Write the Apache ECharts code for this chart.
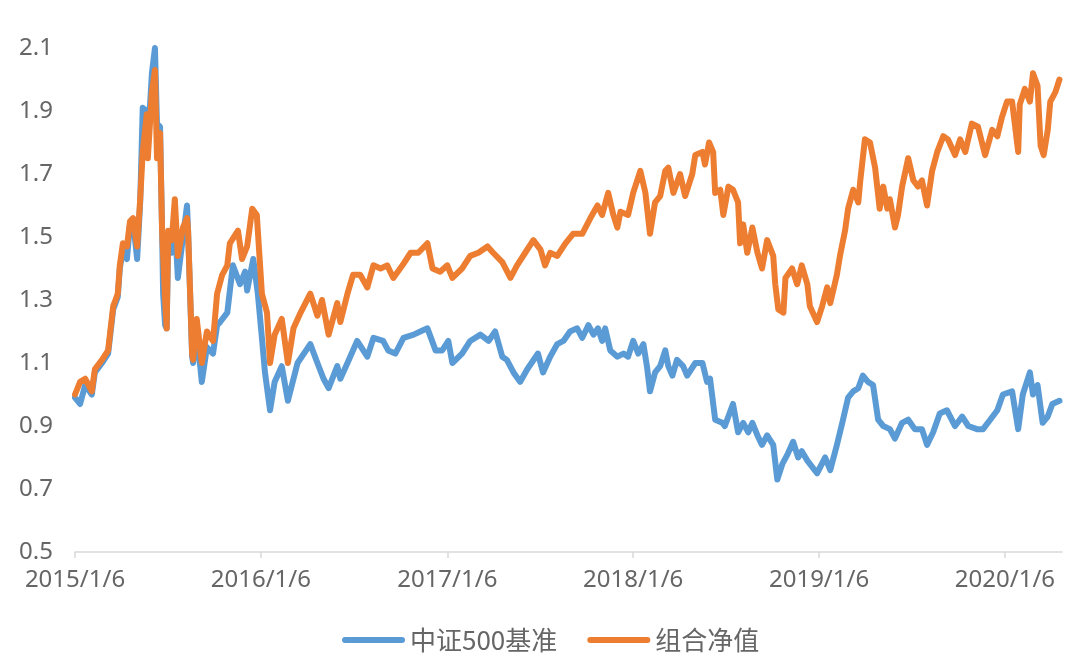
<!DOCTYPE html>
<html>
<head>
<meta charset="utf-8">
<script src="https://cdn.jsdelivr.net/npm/echarts@6/dist/echarts.min.js"></script>
<style>
html,body{margin:0;padding:0;background:#fff;}
#chart{width:1077px;height:660px;}
</style>
</head>
<body>
<div id="chart"></div>
<script>
const seriesNames = ['中证500基准', '组合净值'];
const tickLabels = ['2015/1/6', '2016/1/6', '2017/1/6', '2018/1/6', '2019/1/6', '2020/1/6'];
const axisStart = '2015-01-06';
const axisEnd = '2020-04-27';

const blueDates = [
'2015-01-06','2015-01-16','2015-01-26','2015-02-08','2015-02-14','2015-02-28','2015-03-12','2015-03-22','2015-03-31','2015-04-04',
'2015-04-10','2015-04-18','2015-04-24','2015-04-30','2015-05-08','2015-05-14','2015-05-19','2015-05-27','2015-05-29','2015-06-06',
'2015-06-12','2015-06-16','2015-06-22','2015-06-26','2015-06-28','2015-07-02','2015-07-05','2015-07-08','2015-07-15','2015-07-21',
'2015-07-27','2015-08-06','2015-08-14','2015-08-16','2015-08-24','2015-08-26','2015-09-02','2015-09-12','2015-09-22','2015-10-04',
'2015-10-12','2015-10-18','2015-11-01','2015-11-12','2015-11-26','2015-12-06','2015-12-10','2015-12-22','2015-12-31',
'2016-01-08','2016-01-14','2016-01-24','2016-02-02','2016-02-16','2016-02-28','2016-03-18','2016-04-12','2016-04-26','2016-05-08',
'2016-05-18','2016-06-04','2016-06-10','2016-06-24','2016-07-13','2016-08-02','2016-08-14','2016-09-02','2016-09-12','2016-09-26',
'2016-10-12','2016-11-01','2016-11-14','2016-11-28','2016-12-14','2016-12-27',
'2017-01-08','2017-01-16','2017-02-04','2017-02-20','2017-03-12','2017-03-28','2017-04-10','2017-04-24','2017-05-03','2017-05-16',
'2017-05-29','2017-06-12','2017-07-03','2017-07-13','2017-07-27','2017-08-10','2017-08-22','2017-09-04','2017-09-18','2017-09-28',
'2017-10-10','2017-10-20','2017-10-29','2017-11-06','2017-11-12','2017-11-22','2017-12-06','2017-12-18','2017-12-27',
'2018-01-06','2018-01-16','2018-01-26','2018-02-02','2018-02-08','2018-02-18','2018-02-28','2018-03-10','2018-03-16','2018-03-24',
'2018-04-02','2018-04-14','2018-04-22','2018-05-08','2018-05-22','2018-05-31','2018-06-06','2018-06-16','2018-06-30','2018-07-05',
'2018-07-21','2018-07-31','2018-08-10','2018-08-20','2018-08-28','2018-09-07','2018-09-16','2018-09-26','2018-10-08','2018-10-16',
'2018-10-26','2018-11-05','2018-11-16','2018-11-26','2018-12-03','2018-12-14','2019-01-02',
'2019-01-18','2019-01-28','2019-02-10','2019-02-22','2019-03-04','2019-03-14','2019-03-24','2019-04-02','2019-04-12','2019-04-22',
'2019-05-02','2019-05-12','2019-05-25','2019-06-04','2019-06-18','2019-06-30','2019-07-13','2019-07-27','2019-08-06','2019-08-18',
'2019-08-31','2019-09-14','2019-09-30','2019-10-14','2019-10-26','2019-11-12','2019-11-24','2019-12-08','2019-12-22',
'2020-01-02','2020-01-20','2020-02-01','2020-02-10','2020-02-24','2020-03-01','2020-03-10','2020-03-20','2020-03-30','2020-04-08',
'2020-04-22'
];
const blueValues = [
0.99,0.97,1.03,1.00,1.07,1.10,1.13,1.27,1.31,1.40,
1.46,1.43,1.54,1.55,1.43,1.61,1.91,1.90,1.80,2.02,
2.10,1.86,1.85,1.52,1.32,1.22,1.21,1.50,1.45,1.55,
1.37,1.50,1.60,1.52,1.12,1.10,1.20,1.04,1.15,1.13,
1.22,1.23,1.26,1.41,1.35,1.39,1.33,1.43,1.32,
1.18,1.07,0.95,1.04,1.09,0.98,1.10,1.16,1.10,1.05,
1.02,1.09,1.05,1.10,1.17,1.12,1.18,1.17,1.14,1.13,
1.18,1.19,1.20,1.21,1.14,1.14,
1.17,1.10,1.13,1.17,1.19,1.17,1.20,1.12,1.11,1.07,
1.04,1.08,1.13,1.07,1.12,1.16,1.17,1.20,1.21,1.18,
1.22,1.19,1.21,1.17,1.21,1.14,1.12,1.13,1.12,
1.17,1.13,1.16,1.09,1.01,1.07,1.09,1.14,1.09,1.06,
1.11,1.09,1.06,1.10,1.10,1.04,1.05,0.92,0.91,0.90,
0.97,0.88,0.91,0.88,0.91,0.87,0.84,0.87,0.84,0.73,
0.78,0.81,0.85,0.80,0.82,0.79,0.75,
0.80,0.76,0.84,0.92,0.99,1.01,1.02,1.06,1.04,1.03,
0.92,0.90,0.89,0.86,0.91,0.92,0.89,0.89,0.84,0.88,
0.94,0.95,0.90,0.93,0.90,0.89,0.89,0.92,0.95,
1.00,1.01,0.89,1.00,1.07,1.00,1.03,0.91,0.93,0.97,
0.98
];

const orangeDates = [
'2015-01-06','2015-01-16','2015-01-26','2015-02-08','2015-02-14','2015-02-28','2015-03-12','2015-03-22','2015-03-31','2015-04-04',
'2015-04-10','2015-04-18','2015-04-24','2015-04-30','2015-05-08','2015-05-14','2015-05-19','2015-05-27','2015-05-29','2015-06-06',
'2015-06-12','2015-06-16','2015-06-22','2015-06-26','2015-07-02','2015-07-05','2015-07-08','2015-07-15','2015-07-21','2015-07-27',
'2015-08-06','2015-08-14','2015-08-16','2015-08-24','2015-08-26','2015-09-02','2015-09-12','2015-09-22','2015-10-04','2015-10-12',
'2015-10-22','2015-11-01','2015-11-06','2015-11-22','2015-11-30','2015-12-10','2015-12-20','2015-12-29',
'2016-01-08','2016-01-18','2016-01-24','2016-02-02','2016-02-16','2016-02-28','2016-03-10','2016-03-24','2016-04-12','2016-04-26',
'2016-05-05','2016-05-18','2016-06-04','2016-06-10','2016-06-24','2016-07-05','2016-07-19','2016-08-02','2016-08-14','2016-08-28',
'2016-09-10','2016-09-22','2016-10-10','2016-10-26','2016-11-10','2016-11-28','2016-12-08','2016-12-23',
'2017-01-06','2017-01-16','2017-02-04','2017-02-20','2017-03-08','2017-03-26','2017-04-06','2017-04-24','2017-05-10','2017-05-23',
'2017-06-08','2017-06-24','2017-07-08','2017-07-17','2017-07-27','2017-08-10','2017-08-26','2017-09-10','2017-09-28','2017-10-14',
'2017-10-28','2017-11-06','2017-11-18','2017-11-28','2017-12-06','2017-12-12','2017-12-27',
'2018-01-06','2018-01-20','2018-01-30','2018-02-08','2018-02-18','2018-02-28','2018-03-10','2018-03-16','2018-03-26','2018-04-08',
'2018-04-18','2018-05-02','2018-05-08','2018-05-22','2018-05-27','2018-06-04','2018-06-12','2018-06-16','2018-06-26','2018-07-02',
'2018-07-12','2018-07-21','2018-07-31','2018-08-04','2018-08-10','2018-08-18','2018-08-28','2018-09-07','2018-09-16','2018-09-26',
'2018-10-08','2018-10-12','2018-10-18','2018-10-28','2018-11-01','2018-11-14','2018-11-24','2018-12-03','2018-12-14','2018-12-19',
'2019-01-02','2019-01-12','2019-01-22','2019-01-28','2019-02-10','2019-02-16','2019-02-26','2019-03-04','2019-03-14','2019-03-24',
'2019-03-28','2019-04-06','2019-04-16','2019-04-26','2019-05-05','2019-05-12','2019-05-20','2019-05-25','2019-06-04','2019-06-10',
'2019-06-18','2019-06-30','2019-07-10','2019-07-19','2019-07-27','2019-08-06','2019-08-16','2019-08-26','2019-09-07','2019-09-16',
'2019-09-30','2019-10-10','2019-10-20','2019-11-02','2019-11-14','2019-11-28','2019-12-12','2019-12-22','2019-12-31',
'2020-01-10','2020-01-20','2020-02-01','2020-02-04','2020-02-14','2020-02-24','2020-03-01','2020-03-10','2020-03-16','2020-03-22',
'2020-03-30','2020-04-04','2020-04-14','2020-04-22'
];
const orangeValues = [
1.00,1.04,1.05,1.01,1.08,1.11,1.14,1.28,1.32,1.41,
1.48,1.47,1.55,1.56,1.47,1.62,1.77,1.89,1.75,1.96,
2.03,1.75,1.83,1.52,1.30,1.21,1.52,1.49,1.62,1.44,
1.53,1.56,1.52,1.13,1.11,1.24,1.10,1.20,1.17,1.32,
1.38,1.41,1.48,1.52,1.43,1.47,1.59,1.57,
1.32,1.26,1.10,1.19,1.24,1.10,1.21,1.26,1.32,1.25,
1.30,1.19,1.29,1.23,1.32,1.38,1.38,1.34,1.41,1.40,
1.41,1.37,1.41,1.45,1.45,1.48,1.40,1.39,
1.41,1.37,1.40,1.44,1.45,1.47,1.45,1.42,1.37,1.41,
1.45,1.49,1.46,1.41,1.45,1.44,1.48,1.51,1.51,1.56,
1.60,1.57,1.64,1.57,1.53,1.58,1.57,
1.64,1.71,1.64,1.51,1.61,1.63,1.71,1.72,1.64,1.70,
1.63,1.70,1.76,1.77,1.73,1.80,1.77,1.64,1.65,1.57,
1.66,1.65,1.61,1.48,1.54,1.45,1.53,1.45,1.40,1.49,
1.44,1.35,1.27,1.26,1.37,1.40,1.35,1.41,1.35,1.28,
1.23,1.28,1.34,1.29,1.38,1.44,1.52,1.59,1.65,1.61,
1.68,1.81,1.80,1.72,1.59,1.66,1.59,1.62,1.53,1.57,
1.66,1.75,1.68,1.66,1.68,1.60,1.71,1.77,1.82,1.81,
1.76,1.81,1.77,1.86,1.85,1.76,1.84,1.82,1.88,
1.93,1.93,1.77,1.92,1.97,1.93,2.02,1.98,1.79,1.76,
1.84,1.93,1.96,2.00
];

function toTs(s) {
  const p = s.replace(/\//g, '-').split('-').map(Number);
  return Date.UTC(p[0], p[1] - 1, p[2]);
}
function pairs(dates, values) {
  return dates.map((d, i) => [toTs(d), values[i]]);
}
const tickValues = tickLabels.map(toTs);

const chart = echarts.init(document.getElementById('chart'), null, {renderer: 'canvas'});
const fontFamily = '"Noto Sans", "Noto Sans CJK SC", sans-serif';
const capsule = 'path://M3,0 L60,0 A3,3 0 0 1 60,6 L3,6 A3,3 0 0 1 3,0 Z';

chart.setOption({
  animation: false,
  backgroundColor: '#ffffff',
  textStyle: {fontFamily: fontFamily},
  grid: {left: 75, right: 15, top: 48, bottom: 108},
  legend: {
    left: 337,
    top: 622,
    itemWidth: 63,
    itemHeight: 7,
    itemGap: 30,
    icon: capsule,
    textStyle: {fontSize: 26, color: '#666666', fontFamily: '"Noto Sans CJK SC", sans-serif'},
    data: seriesNames
  },
  xAxis: {
    type: 'value',
    min: toTs(axisStart),
    max: toTs(axisEnd),
    axisLine: {show: true, lineStyle: {color: '#d9d9d9', width: 1.5}},
    axisTick: {show: true, inside: false, length: 6, customValues: tickValues, lineStyle: {color: '#d9d9d9', width: 1.5}},
    splitLine: {show: false},
    axisLabel: {
      customValues: tickValues,
      margin: 16,
      fontSize: 24,
      color: '#666666',
      formatter: function (v) {
        const i = tickValues.indexOf(v);
        return i >= 0 ? tickLabels[i] : '';
      }
    }
  },
  yAxis: {
    type: 'value',
    min: 0.5,
    max: 2.1,
    interval: 0.2,
    axisLine: {show: false},
    axisTick: {show: false},
    splitLine: {show: false},
    axisLabel: {
      margin: 22,
      fontSize: 24,
      color: '#666666',
      formatter: function (v) { return v.toFixed(1); }
    }
  },
  series: [
    {
      name: seriesNames[0],
      type: 'line',
      data: pairs(blueDates, blueValues),
      showSymbol: false,
      lineStyle: {color: '#5B9BD5', width: 6, join: 'round', cap: 'round'},
      itemStyle: {color: '#5B9BD5'}
    },
    {
      name: seriesNames[1],
      type: 'line',
      data: pairs(orangeDates, orangeValues),
      showSymbol: false,
      lineStyle: {color: '#ED7D31', width: 6, join: 'round', cap: 'round'},
      itemStyle: {color: '#ED7D31'}
    }
  ]
});
</script>
</body>
</html>
